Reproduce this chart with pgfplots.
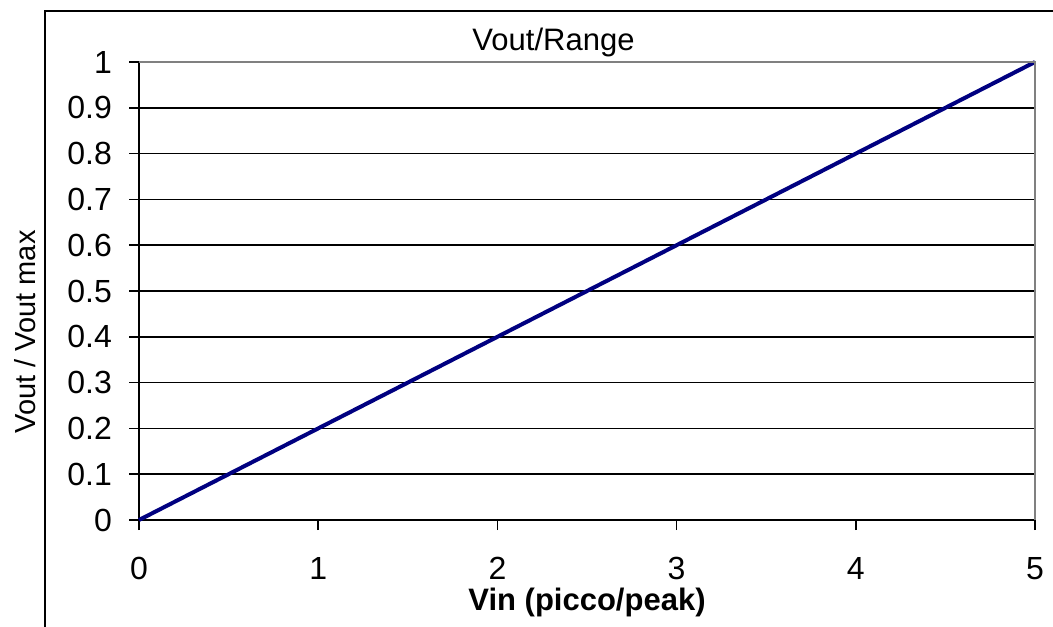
\documentclass[border=0pt]{standalone}
\usepackage{pgfplots}
\pgfplotsset{compat=1.18}
\usepackage{fontspec}
\setmainfont{Liberation Sans}
\definecolor{linenavy}{RGB}{0,0,128}
\definecolor{framegray}{RGB}{128,128,128}

\begin{document}
\begin{tikzpicture}
\useasboundingbox (0,0) rectangle (526.5pt,-313pt);
% outer chart border (cut at right and bottom)
\draw[line width=0.8pt] (530pt,-5.5pt) -- (22.5pt,-5.5pt) -- (22.5pt,-320pt);
\begin{axis}[
    at={(69.5pt,-260pt)}, anchor=south west,
    scale only axis, width=448pt, height=229pt,
    xmin=0, xmax=5, ymin=0, ymax=1,
    xtick={0,1,2,3,4,5},
    ytick={0,0.1,0.2,0.3,0.4,0.5,0.6,0.7,0.8,0.9,1},
    yticklabels={0,0.1,0.2,0.3,0.4,0.5,0.6,0.7,0.8,0.9,1},
    xtick pos=bottom, ytick pos=left,
    xmajorticks=true, ymajorticks=true,
    axis line style={line width=0.8pt, black},
    xtick align=outside, ytick align=outside,
    major tick length=5pt,
    every tick/.append style={line width=0.8pt, black},
    xtick style={line width=0.8pt, black},
    ytick style={line width=0.8pt, black},
    ymajorgrids, grid style={line width=0.8pt, black},
    /pgf/number format/assume math mode=true,
    tick label style={font=\fontsize{16}{19}\selectfont},
    yticklabel style={xshift=-5pt},
    xticklabel style={yshift=-10pt},
    clip=false,
]
\addplot[linenavy, line width=2pt] coordinates {
  (0,0) (0.5,0.1) (1,0.2) (1.5,0.3) (2,0.4) (2.5,0.5)
  (3,0.6) (3.5,0.7) (4,0.8) (4.5,0.9) (5,1)
};
\draw[framegray, line width=1pt] (rel axis cs:0,1) -- (rel axis cs:1,1) -- (rel axis cs:1,0);
\end{axis}
\node[anchor=base, font=\fontsize{15.5}{18}\selectfont] at (276.75pt,-25.5pt) {Vout/Range};
\node[anchor=base, font=\fontsize{15.5}{18}\selectfont\bfseries] at (293.5pt,-305pt) {Vin (picco/peak)};
\node[rotate=90, font=\fontsize{14.5}{18}\selectfont] at (12.5pt,-166pt) {Vout / Vout max};
\end{tikzpicture}
\end{document}
